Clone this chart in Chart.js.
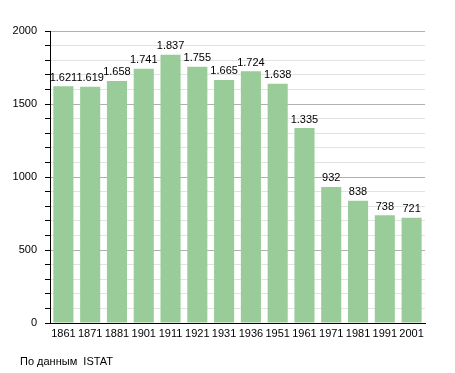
<!DOCTYPE html>
<html>
<head>
<meta charset="utf-8">
<script src="https://cdn.jsdelivr.net/npm/chart.js@4/dist/chart.umd.min.js"></script>
<style>
  body { margin: 0; background: #fff; }
  #wrap { position: relative; width: 455px; height: 373px; }
  #fonte { position: absolute; left: 20px; top: 355px; font: 11px "Liberation Sans", Arial, sans-serif; color: #000; }
</style>
</head>
<body>
<div id="wrap">
  <canvas id="grafico" width="455" height="373"></canvas>
  <div id="fonte">По данным&nbsp; ISTAT</div>
</div>
<script>
const anni = ["1861", "1871", "1881", "1901", "1911", "1921", "1931", "1936", "1951", "1961", "1971", "1981", "1991", "2001"];
const abitanti = [1621, 1619, 1658, 1741, 1837, 1755, 1665, 1724, 1638, 1335, 932, 838, 738, 721];
const tickPrincipali = [0, 500, 1000, 1500, 2000];

const fontBase = { family: "'Liberation Sans', Arial, sans-serif", size: 11 };

// numero con il punto delle migliaia
function formatta(v) {
  return v >= 1000 ? Math.floor(v / 1000) + "." + String(v % 1000).padStart(3, "0") : String(v);
}

const etichette = {
  id: "etichette",
  afterDatasetsDraw(chart) {
    const ctx = chart.ctx;
    ctx.save();
    ctx.font = "11px 'Liberation Sans', Arial, sans-serif";
    ctx.fillStyle = "#000";
    ctx.textAlign = "center";
    ctx.textBaseline = "bottom";
    chart.getDatasetMeta(0).data.forEach((bar, i) => {
      ctx.fillText(formatta(abitanti[i]), bar.x, bar.y - 3);
    });
    ctx.restore();
  }
};

new Chart(document.getElementById("grafico"), {
  type: "bar",
  data: {
    labels: anni,
    datasets: [{
      data: abitanti,
      backgroundColor: "#99cc99",
      borderWidth: 0,
      barPercentage: 0.75,
      categoryPercentage: 1
    }]
  },
  options: {
    responsive: false,
    animation: false,
    layout: { padding: { top: 31, right: 30, left: 0, bottom: 0 } },
    plugins: { legend: { display: false }, tooltip: { enabled: false } },
    scales: {
      x: {
        afterFit(s) { s.height = 50; },
        grid: { display: false, drawTicks: false },
        border: { color: "#000", width: 1 },
        ticks: { color: "#000", font: fontBase, padding: 4, maxRotation: 0, autoSkip: false }
      },
      y: {
        min: 0,
        max: 2000,
        afterFit(s) { s.width = 50; },
        ticks: {
          stepSize: 100,
          autoSkip: false,
          color: "#000",
          font: fontBase,
          padding: 8,
          callback: v => tickPrincipali.includes(v) ? v : ""
        },
        grid: {
          color: c => c.tick && c.tick.value % 500 === 0 ? "#b0b0b0" : "#e2e2e2",
          tickColor: "#000",
          tickLength: 5
        },
        border: { color: "#000", width: 1 }
      }
    }
  },
  plugins: [etichette]
});
</script>
</body>
</html>
